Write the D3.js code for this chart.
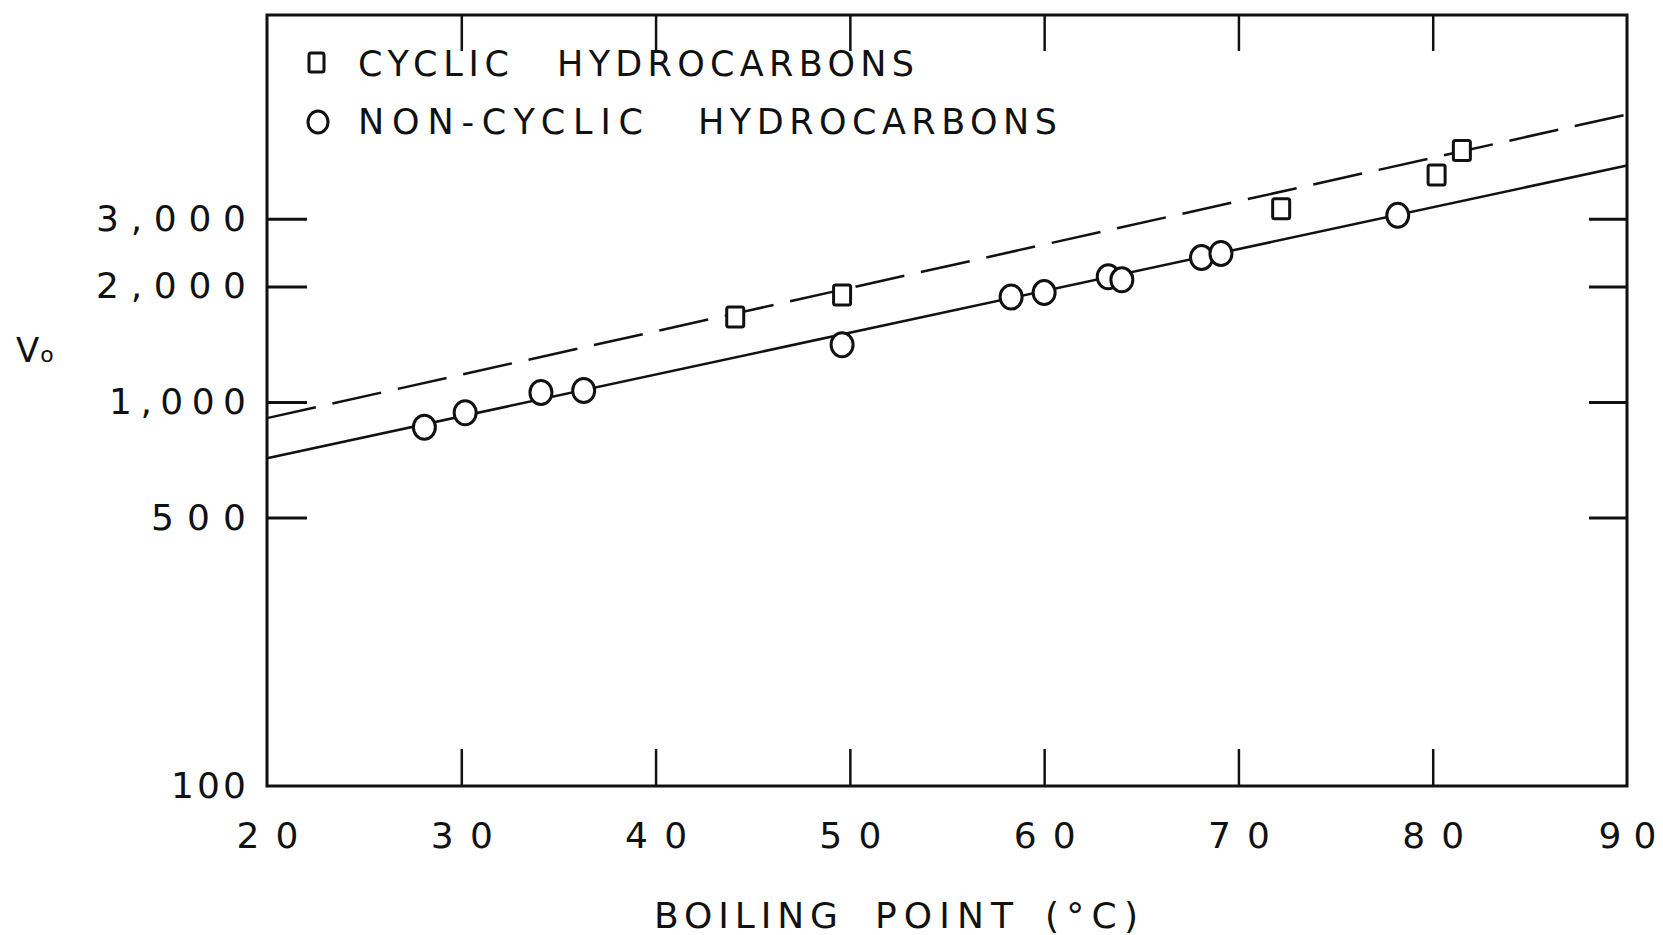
<!DOCTYPE html>
<html>
<head>
<meta charset="utf-8">
<script src="https://cdn.jsdelivr.net/npm/d3@7/dist/d3.min.js"></script>
<style>
  html, body { margin: 0; padding: 0; background: #fff; }
  svg { display: block; }
  text { font-family: "DejaVu Sans", "Liberation Sans", sans-serif; fill: #111; }
</style>
</head>
<body>
<div id="chart"></div>
<script>
// --- data ---
const cyclicBp = [44.1, 49.6, 72.2, 80.2, 81.5];
const cyclicV = [1664, 1900, 3185, 3900, 4520];

const nonCyclicBp = [28.1, 30.2, 34.1, 36.3, 49.6, 58.3, 60.0, 63.3, 64.0, 68.1, 69.1, 78.2];
const nonCyclicV = [859, 938, 1059, 1072, 1410, 1876, 1927, 2118, 2080, 2377, 2437, 3062];

// fitted lines, end points at the axis limits
const fitBp = [20, 90];
const cyclicFit = [908, 5610];
const nonCyclicFit = [714, 4130];

const xTicks = [20, 30, 40, 50, 60, 70, 80, 90];
const yTicks = [100, 500, 1000, 2000, 3000];
const yTickLabels = ["100", "500", "1,000", "2,000", "3,000"];

const W = 1663, H = 935;
const plotLeft = 267, plotRight = 1627, plotTop = 18, plotBottom = 786;

const svg = d3.select("#chart").append("svg")
  .attr("width", W).attr("height", H);

const x = d3.scaleLinear().domain([20, 90]).range([plotLeft, plotRight]);
const y = d3.scaleLog().domain([100, 10000]).range([plotBottom, plotTop]);

const ink = "#111";

// frame
svg.append("rect")
  .attr("x", plotLeft).attr("y", plotTop - 3)
  .attr("width", plotRight - plotLeft).attr("height", plotBottom - plotTop + 3)
  .attr("fill", "none").attr("stroke", ink).attr("stroke-width", 3);

// bottom axis, ticks pointing inward
const xAxis = svg.append("g")
  .attr("transform", `translate(0,${plotBottom})`)
  .call(d3.axisBottom(x).tickValues(xTicks).tickSizeInner(-37).tickSizeOuter(0).tickPadding(36));
xAxis.select(".domain").remove();
xAxis.selectAll(".tick line").attr("stroke", ink).attr("stroke-width", 2.5)
  .filter(d => d === 20 || d === 90).remove();
xAxis.selectAll(".tick text")
  .attr("font-size", 36).attr("fill", ink)
  .attr("textLength", d => d === 90 ? 58 : 62).attr("lengthAdjust", "spacing");

// top ticks
const xTop = svg.append("g")
  .attr("transform", `translate(0,${plotTop - 3})`)
  .call(d3.axisTop(x).tickValues(xTicks.slice(1, -1)).tickSizeInner(-36).tickSizeOuter(0).tickFormat(""));
xTop.select(".domain").remove();
xTop.selectAll(".tick line").attr("stroke", ink).attr("stroke-width", 2.5);

// left axis
const yAxis = svg.append("g")
  .attr("transform", `translate(${plotLeft},0)`)
  .call(d3.axisLeft(y).tickValues(yTicks).tickSizeInner(-40).tickSizeOuter(0).tickPadding(21)
    .tickFormat((d, i) => yTickLabels[i]));
yAxis.select(".domain").remove();
yAxis.selectAll(".tick line").attr("stroke", ink).attr("stroke-width", 3)
  .filter(d => d === 100).remove();
const yLabelWidth = { 100: 75, 500: 95, 1000: 137, 2000: 150, 3000: 150 };
yAxis.selectAll(".tick text")
  .attr("font-size", 36).attr("fill", ink)
  .attr("textLength", d => yLabelWidth[d]).attr("lengthAdjust", "spacing");

// right ticks
const yRight = svg.append("g")
  .attr("transform", `translate(${plotRight},0)`)
  .call(d3.axisRight(y).tickValues(yTicks.slice(1)).tickSizeInner(-38).tickSizeOuter(0).tickFormat(""));
yRight.select(".domain").remove();
yRight.selectAll(".tick line").attr("stroke", ink).attr("stroke-width", 3);

// fit lines
const line = d3.line().x(d => x(d[0])).y(d => y(d[1]));

svg.append("path")
  .datum(d3.zip(fitBp, nonCyclicFit))
  .attr("d", line)
  .attr("fill", "none").attr("stroke", ink).attr("stroke-width", 2.5);

svg.append("path")
  .datum(d3.zip(fitBp, cyclicFit))
  .attr("d", line)
  .attr("fill", "none").attr("stroke", ink).attr("stroke-width", 2.5)
  .attr("stroke-dasharray", "50,17");

// markers
svg.append("g").selectAll("ellipse")
  .data(d3.zip(nonCyclicBp, nonCyclicV))
  .join("ellipse")
  .attr("cx", d => x(d[0])).attr("cy", d => y(d[1]))
  .attr("rx", 11).attr("ry", 12)
  .attr("fill", "#fff").attr("stroke", ink).attr("stroke-width", 3);

svg.append("g").selectAll("rect")
  .data(d3.zip(cyclicBp, cyclicV))
  .join("rect")
  .attr("x", d => x(d[0]) - 8.5).attr("y", d => y(d[1]) - 10)
  .attr("width", 17).attr("height", 20).attr("rx", 2)
  .attr("fill", "#fff").attr("stroke", ink).attr("stroke-width", 3);

// legend
const legend = svg.append("g");
legend.append("rect")
  .attr("x", 309).attr("y", 53).attr("width", 15).attr("height", 19).attr("rx", 2)
  .attr("fill", "#fff").attr("stroke", ink).attr("stroke-width", 3);
legend.append("ellipse")
  .attr("cx", 318).attr("cy", 122).attr("rx", 10).attr("ry", 11)
  .attr("fill", "#fff").attr("stroke", ink).attr("stroke-width", 3);

const legendWords = [
  { t: "CYCLIC", x: 358, w: 151, y: 76 },
  { t: "HYDROCARBONS", x: 557, w: 357, y: 76 },
  { t: "NON-CYCLIC", x: 358, w: 285, y: 134 },
  { t: "HYDROCARBONS", x: 698, w: 359, y: 134 }
];
legend.selectAll("text")
  .data(legendWords)
  .join("text")
  .attr("x", d => d.x).attr("y", d => d.y)
  .attr("font-size", 35)
  .attr("textLength", d => d.w).attr("lengthAdjust", "spacing")
  .text(d => d.t);

// axis titles
const xTitle = [
  { t: "BOILING", x: 654, w: 184 },
  { t: "POINT", x: 875, w: 138 },
  { t: "(°C)", x: 1045, w: 93 }
];
svg.append("g").selectAll("text")
  .data(xTitle)
  .join("text")
  .attr("x", d => d.x).attr("y", 928)
  .attr("font-size", 36)
  .attr("textLength", d => d.w).attr("lengthAdjust", "spacing")
  .text(d => d.t);

const yTitle = svg.append("text")
  .attr("x", 16).attr("y", 362)
  .attr("font-size", 34);
yTitle.append("tspan").text("V");
yTitle.append("tspan").attr("font-size", 22).attr("dx", 1).text("o");
</script>
</body>
</html>
